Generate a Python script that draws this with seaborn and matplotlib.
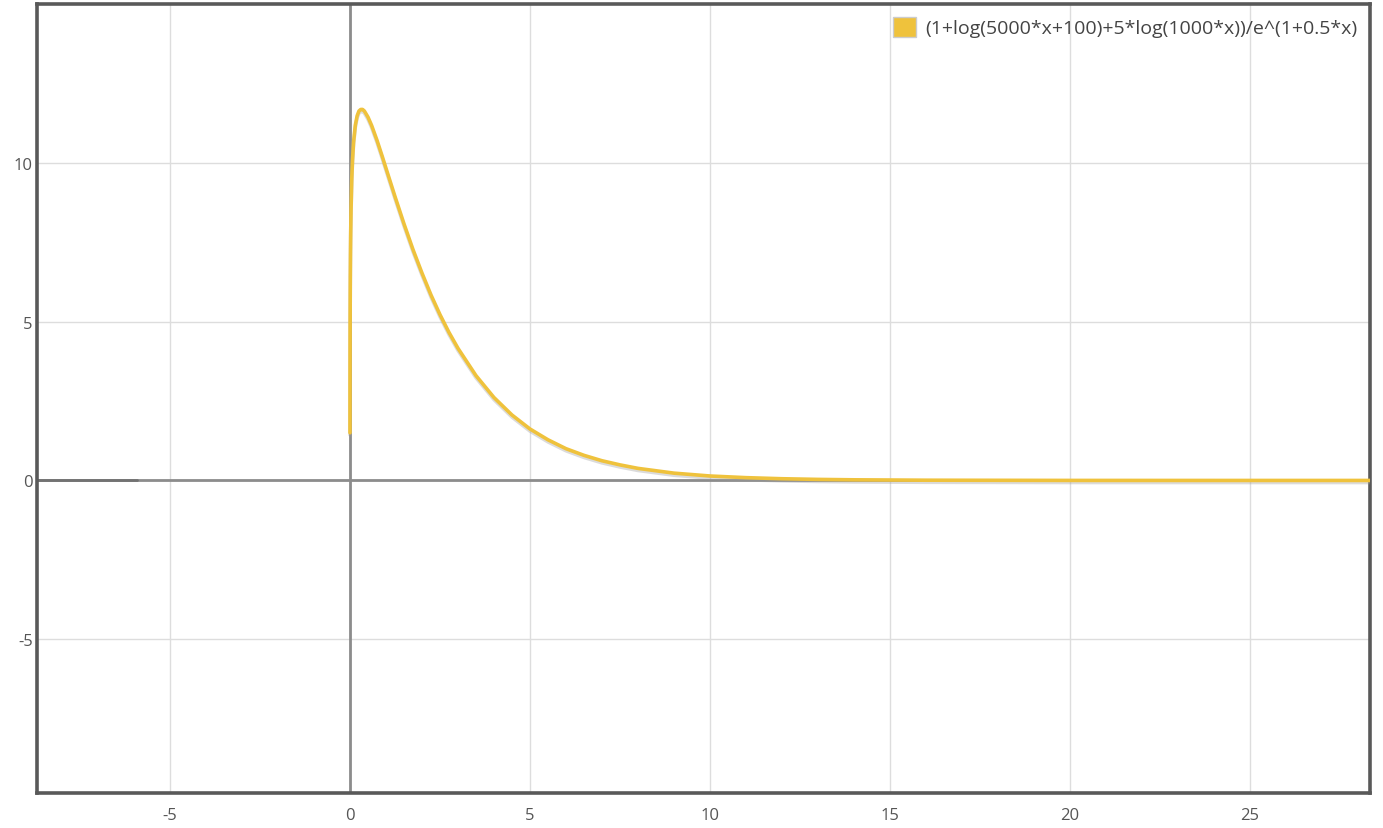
import matplotlib
matplotlib.use("Agg")
import matplotlib.pyplot as plt
import matplotlib.patheffects as pe
from matplotlib.patches import Patch
import pandas as pd
import seaborn as sns

# curve values
xs = [0.0007, 0.001, 0.0015, 0.002, 0.0035, 0.005, 0.008, 0.01, 0.015, 0.02,
      0.03, 0.05, 0.07, 0.1, 0.15, 0.2, 0.25, 0.3, 0.35, 0.4, 0.5, 0.6, 0.75,
      0.9, 1.0, 1.25, 1.5, 1.75, 2.0, 2.25, 2.5, 2.75, 3.0, 3.5, 4.0, 4.5,
      5.0, 5.5, 6.0, 6.5, 7.0, 7.5, 8.0, 9.0, 10.0, 11.0, 12.0, 13.0, 14.0,
      16.0, 20.0, 24.0, 28.4]
ys = [1.5, 2.08, 2.83, 3.37, 4.42, 5.09, 5.99, 6.41, 7.19, 7.75,
      8.53, 9.48, 10.07, 10.65, 11.19, 11.48, 11.63, 11.68, 11.68, 11.63, 11.44, 11.18, 10.71,
      10.19, 9.83, 8.94, 8.08, 7.27, 6.53, 5.84, 5.22, 4.66, 4.16, 3.30, 2.61, 2.06,
      1.62, 1.28, 1.00, 0.79, 0.62, 0.49, 0.38, 0.23, 0.14, 0.088, 0.054, 0.033, 0.02,
      0.0075, 0.001, 0.0001, 0.0]
label = "(1+log(5000*x+100)+5*log(1000*x))/e^(1+0.5*x)"
xticks = [-5, 0, 5, 10, 15, 20, 25]
yticks = [-5, 0, 5, 10]
xlim = (-8.69, 28.33)
ylim = (-9.84, 15.0)
left_seg = [-8.69, -5.92]

df = pd.DataFrame({"x": xs, "y": ys})

sns.set_style("white")
plt.rcParams["font.family"] = ["Open Sans", "DejaVu Sans"]
plt.rcParams["axes.unicode_minus"] = False

fig = plt.figure(figsize=(13.83, 8.29), dpi=100)
ax = fig.add_axes([0.0268, 0.0422, 0.9638, 0.9518])

ax.set_xlim(*xlim)
ax.set_ylim(*ylim)
ax.set_xticks(xticks)
ax.set_yticks(yticks)
ax.grid(True, color="#dddddd", linewidth=1)
ax.set_axisbelow(True)

ax.axhline(0, color="#8c8c8c", linewidth=2, zorder=2)
ax.axvline(0, color="#8c8c8c", linewidth=2, zorder=2)
ax.plot(left_seg, [0, 0], color="#727272", linewidth=2, zorder=2)

yellow = "#efc23c"
sns.lineplot(data=df, x="x", y="y", ax=ax, color=yellow, linewidth=2.6,
             sort=False, zorder=3, legend=False,
             path_effects=[pe.SimpleLineShadow(offset=(0, -1.5), shadow_color="#999999", alpha=0.35),
                           pe.Normal()])

ax.set_xlabel("")
ax.set_ylabel("")
ax.tick_params(axis="both", length=0, labelsize=12, labelcolor="#555555")
ax.tick_params(axis="x", pad=10)
ax.tick_params(axis="y", pad=3)

for s in ax.spines.values():
    s.set_color("#595959")
    s.set_linewidth(2.6)

handle = Patch(facecolor=yellow, edgecolor="#cccccc", linewidth=1)
leg = ax.legend([handle], [label], loc="upper right", frameon=False,
                handlelength=1.2, handleheight=1.2, handletextpad=0.45,
                fontsize=14, borderaxespad=0.25, bbox_to_anchor=(1.0, 1.0))
for t in leg.get_texts():
    t.set_color("#444444")

fig.savefig("out.png", dpi=100)
